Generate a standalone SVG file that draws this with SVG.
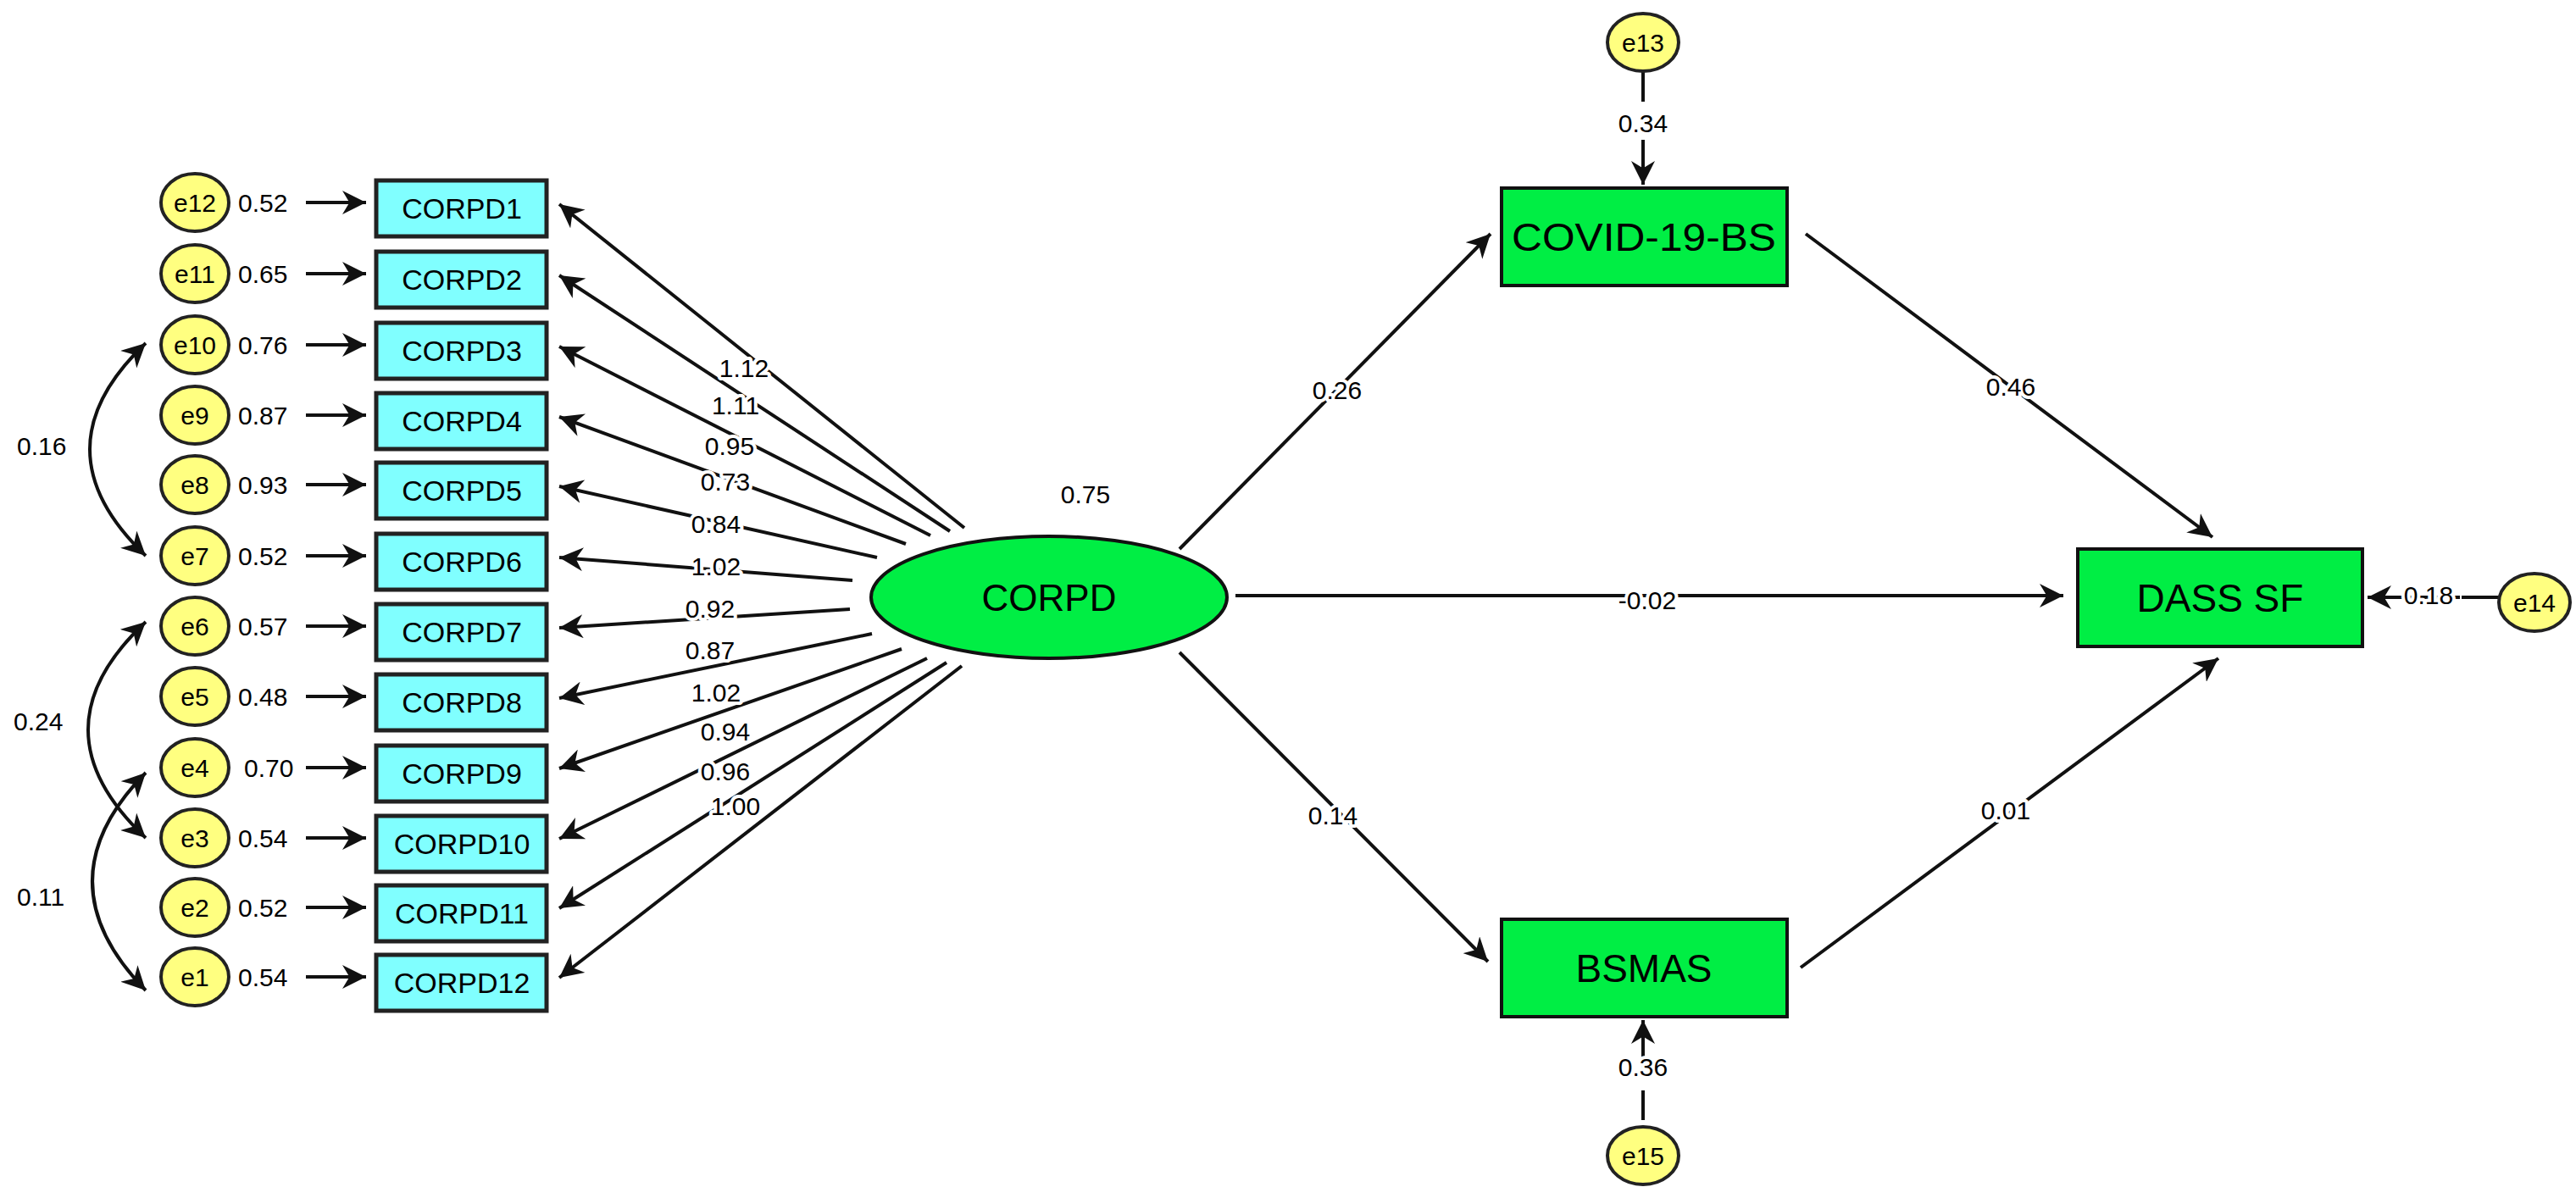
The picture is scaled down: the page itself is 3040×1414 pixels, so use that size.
<svg xmlns="http://www.w3.org/2000/svg" width="3040" height="1414" viewBox="0 0 3040 1414">
<style>
text{font-family:"Liberation Sans",Arial,sans-serif;fill:#000}
.e{fill:#FFFF80;stroke:#222;stroke-width:4}
.ob{fill:#80FFFF;stroke:#222;stroke-width:5}
.gb{fill:#00EE44;stroke:#111;stroke-width:4}
.ln{stroke:#111;stroke-width:4;fill:none}
.lab{font-size:30px}
.fan{font-size:30px;text-anchor:middle;stroke:#fff;stroke-width:8;paint-order:stroke;stroke-linejoin:round}
.bt{font-size:34px;text-anchor:middle}
.et{font-size:30px;text-anchor:middle}
</style>
<defs>
<marker id="ah" viewBox="0 0 10 10" refX="10" refY="5" markerWidth="7" markerHeight="7" markerUnits="strokeWidth" orient="auto-start-reverse"><path d="M0,0 L10,5 L0,10 L3,5 z" fill="#111"/></marker>
</defs>
<g id="connectors">
<g class="ln" marker-end="url(#ah)">
<line x1="361" y1="239" x2="432" y2="239"/><line x1="361" y1="323" x2="432" y2="323"/><line x1="361" y1="407" x2="432" y2="407"/><line x1="361" y1="490" x2="432" y2="490"/><line x1="361" y1="572" x2="432" y2="572"/><line x1="361" y1="656" x2="432" y2="656"/><line x1="361" y1="739" x2="432" y2="739"/><line x1="361" y1="822" x2="432" y2="822"/><line x1="361" y1="906" x2="432" y2="906"/><line x1="361" y1="989" x2="432" y2="989"/><line x1="361" y1="1071" x2="432" y2="1071"/><line x1="361" y1="1153" x2="432" y2="1153"/>
<line x1="1138" y1="623" x2="660" y2="241"/><line x1="1121" y1="627" x2="660" y2="325"/><line x1="1098" y1="632" x2="660" y2="409"/><line x1="1069" y1="642" x2="660" y2="492"/><line x1="1035" y1="658" x2="660" y2="574"/><line x1="1006" y1="685" x2="660" y2="658"/><line x1="1003" y1="719" x2="660" y2="741"/><line x1="1029" y1="748" x2="660" y2="824"/><line x1="1064" y1="766" x2="660" y2="907"/><line x1="1094" y1="777" x2="660" y2="990"/><line x1="1117" y1="782" x2="660" y2="1072"/><line x1="1135" y1="786" x2="660" y2="1154"/>
<line x1="1392" y1="648" x2="1759" y2="276"/><line x1="2131" y1="276" x2="2611" y2="634"/><line x1="1458" y1="703" x2="2435" y2="703"/><line x1="1392" y1="770" x2="1756" y2="1135"/><line x1="2125" y1="1142" x2="2618" y2="777"/>
<line x1="1939" y1="165" x2="1939" y2="218"/><line x1="1939" y1="1272" x2="1939" y2="1204"/><line x1="2903" y1="705" x2="2794" y2="705"/>
</g>
<g class="ln">
<line x1="1939" y1="84" x2="1939" y2="120"/><line x1="1939" y1="1287" x2="1939" y2="1322"/><line x1="2948" y1="705" x2="2905" y2="705"/>
<path d="M172 405 Q40 530 172 656" marker-start="url(#ah)" marker-end="url(#ah)"/>
<path d="M172 734 Q36 861 172 989" marker-start="url(#ah)" marker-end="url(#ah)"/>
<path d="M172 912 Q46 1040 172 1169" marker-start="url(#ah)" marker-end="url(#ah)"/>
</g>
<g class="lab">
<text x="281" y="250">0.52</text><text x="281" y="334">0.65</text><text x="281" y="418">0.76</text><text x="281" y="501">0.87</text><text x="281" y="583">0.93</text><text x="281" y="667">0.52</text><text x="281" y="750">0.57</text><text x="281" y="833">0.48</text><text x="288" y="917">0.70</text><text x="281" y="1000">0.54</text><text x="281" y="1082">0.52</text><text x="281" y="1164">0.54</text>
<text x="20" y="537">0.16</text><text x="16" y="862">0.24</text><text x="20" y="1069">0.11</text>
</g>
<g class="fan">
<text x="878" y="445">1.12</text><text x="868" y="489">1.11</text><text x="861" y="537">0.95</text><text x="856" y="579">0.73</text><text x="845" y="629">0.84</text><text x="845" y="679">1.02</text><text x="838" y="729">0.92</text><text x="838" y="778">0.87</text><text x="845" y="828">1.02</text><text x="856" y="874">0.94</text><text x="856" y="921">0.96</text><text x="868" y="962">1.00</text>
<text x="1281" y="594">0.75</text><text x="1578" y="471">0.26</text><text x="2373" y="467">0.46</text><text x="1944" y="719">-0.02</text><text x="1573" y="973">0.14</text><text x="2367" y="967">0.01</text>
<text x="1939" y="156">0.34</text><text x="1939" y="1270">0.36</text><text x="2866" y="713">0.18</text>
</g>
</g>
<g id="errors">
<g id="e12"><ellipse class="e" cx="230" cy="239" rx="40" ry="34"/><text class="et" x="230" y="250">e12</text></g>
<g id="e11"><ellipse class="e" cx="230" cy="323" rx="40" ry="34"/><text class="et" x="230" y="334">e11</text></g>
<g id="e10"><ellipse class="e" cx="230" cy="407" rx="40" ry="34"/><text class="et" x="230" y="418">e10</text></g>
<g id="e9"><ellipse class="e" cx="230" cy="490" rx="40" ry="34"/><text class="et" x="230" y="501">e9</text></g>
<g id="e8"><ellipse class="e" cx="230" cy="572" rx="40" ry="34"/><text class="et" x="230" y="583">e8</text></g>
<g id="e7"><ellipse class="e" cx="230" cy="656" rx="40" ry="34"/><text class="et" x="230" y="667">e7</text></g>
<g id="e6"><ellipse class="e" cx="230" cy="739" rx="40" ry="34"/><text class="et" x="230" y="750">e6</text></g>
<g id="e5"><ellipse class="e" cx="230" cy="822" rx="40" ry="34"/><text class="et" x="230" y="833">e5</text></g>
<g id="e4"><ellipse class="e" cx="230" cy="906" rx="40" ry="34"/><text class="et" x="230" y="917">e4</text></g>
<g id="e3"><ellipse class="e" cx="230" cy="989" rx="40" ry="34"/><text class="et" x="230" y="1000">e3</text></g>
<g id="e2"><ellipse class="e" cx="230" cy="1071" rx="40" ry="34"/><text class="et" x="230" y="1082">e2</text></g>
<g id="e1"><ellipse class="e" cx="230" cy="1153" rx="40" ry="34"/><text class="et" x="230" y="1164">e1</text></g>
<g id="e13"><ellipse class="e" cx="1939" cy="50" rx="42" ry="34"/><text class="et" x="1939" y="61">e13</text></g>
<g id="e14"><ellipse class="e" cx="2991" cy="711" rx="42" ry="34"/><text class="et" x="2991" y="722">e14</text></g>
<g id="e15"><ellipse class="e" cx="1939" cy="1364" rx="42" ry="34"/><text class="et" x="1939" y="1375">e15</text></g>
</g>
<g id="items">
<g id="CORPD1"><rect class="ob" x="444" y="213" width="201" height="66"/><text class="bt" x="545" y="258">CORPD1</text></g>
<g id="CORPD2"><rect class="ob" x="444" y="297" width="201" height="66"/><text class="bt" x="545" y="342">CORPD2</text></g>
<g id="CORPD3"><rect class="ob" x="444" y="381" width="201" height="66"/><text class="bt" x="545" y="426">CORPD3</text></g>
<g id="CORPD4"><rect class="ob" x="444" y="464" width="201" height="66"/><text class="bt" x="545" y="509">CORPD4</text></g>
<g id="CORPD5"><rect class="ob" x="444" y="546" width="201" height="66"/><text class="bt" x="545" y="591">CORPD5</text></g>
<g id="CORPD6"><rect class="ob" x="444" y="630" width="201" height="66"/><text class="bt" x="545" y="675">CORPD6</text></g>
<g id="CORPD7"><rect class="ob" x="444" y="713" width="201" height="66"/><text class="bt" x="545" y="758">CORPD7</text></g>
<g id="CORPD8"><rect class="ob" x="444" y="796" width="201" height="66"/><text class="bt" x="545" y="841">CORPD8</text></g>
<g id="CORPD9"><rect class="ob" x="444" y="880" width="201" height="66"/><text class="bt" x="545" y="925">CORPD9</text></g>
<g id="CORPD10"><rect class="ob" x="444" y="963" width="201" height="66"/><text class="bt" x="545" y="1008">CORPD10</text></g>
<g id="CORPD11"><rect class="ob" x="444" y="1045" width="201" height="66"/><text class="bt" x="545" y="1090">CORPD11</text></g>
<g id="CORPD12"><rect class="ob" x="444" y="1127" width="201" height="66"/><text class="bt" x="545" y="1172">CORPD12</text></g>
</g>
<g id="CORPD"><ellipse class="gb" cx="1238" cy="705" rx="210" ry="72"/><text x="1238" y="721" font-size="44" text-anchor="middle">CORPD</text></g>
<g id="COVID-19-BS"><rect class="gb" x="1772" y="222" width="337" height="115"/><text x="1940" y="296" font-size="46" text-anchor="middle" textLength="312" lengthAdjust="spacingAndGlyphs">COVID-19-BS</text></g>
<g id="DASS_SF"><rect class="gb" x="2452" y="648" width="336" height="115"/><text x="2620" y="722" font-size="46" text-anchor="middle">DASS SF</text></g>
<g id="BSMAS"><rect class="gb" x="1772" y="1085" width="337" height="115"/><text x="1940" y="1159" font-size="46" text-anchor="middle">BSMAS</text></g>
</svg>
